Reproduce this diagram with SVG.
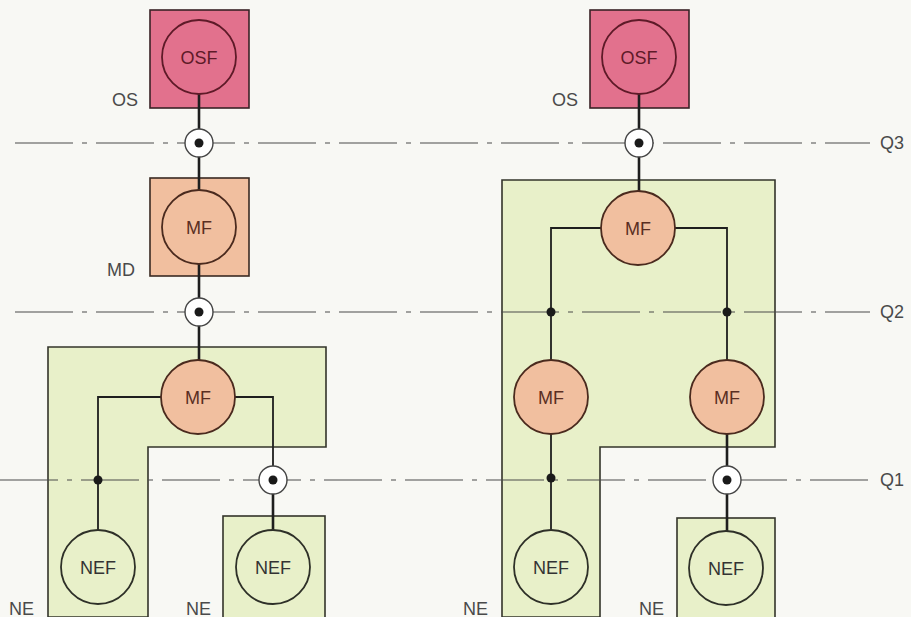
<svg xmlns="http://www.w3.org/2000/svg" width="911" height="617" viewBox="0 0 911 617">
  <style>
    .bg { fill: #f8f8f4; }
    .os-box { fill: #e2718d; stroke: #3a2226; stroke-width: 1.6; }
    .md-box { fill: #f1bf9f; stroke: #3a2a22; stroke-width: 1.6; }
    .ne-box { fill: #e8f0c9; stroke: #33342a; stroke-width: 1.6; }
    .osf { fill: #e2718d; stroke: #5e1a28; stroke-width: 1.8; }
    .mf { fill: #f1bf9f; stroke: #4a2a1e; stroke-width: 1.8; }
    .nef { fill: #e8f0c9; stroke: #2e3028; stroke-width: 1.8; }
    .qline { fill: none; stroke: #4a4a4a; stroke-width: 1.2; stroke-dasharray: 58 9 5 9; }
    .link { fill: none; stroke: #1e1e1e; stroke-width: 1.8; }
    .trunk { fill: none; stroke: #1e1e1e; stroke-width: 2.6; }
    .ref { fill: #ffffff; stroke: #444; stroke-width: 1.4; }
    .dot { fill: #1a1a1a; }
    .fn { font-family: "Liberation Sans", Arial, sans-serif; font-size: 18px; text-anchor: middle; }
    .fn-os { fill: #5e1a28; }
    .fn-mf { fill: #5a2e22; }
    .fn-ne { fill: #333333; }
    .lbl { font-family: "Liberation Sans", Arial, sans-serif; font-size: 18px; fill: #4a4a4a; }
  </style>

  <rect class="bg" x="0" y="0" width="911" height="617"/>

  <!-- Containers -->
  <g id="os-left"><rect class="os-box" x="150" y="10" width="99" height="98"/></g>
  <g id="md-left"><rect class="md-box" x="150" y="178" width="99" height="98"/></g>
  <g id="ne-left-a"><path class="ne-box" d="M48,347 H326 V447 H148 V617 H48 Z"/></g>
  <g id="ne-left-b"><rect class="ne-box" x="223" y="516" width="102" height="105"/></g>
  <g id="os-right"><rect class="os-box" x="590" y="10" width="99" height="98"/></g>
  <g id="ne-right-a"><path class="ne-box" d="M502,180 H775 V447 H600 V617 H502 Z"/></g>
  <g id="ne-right-b"><rect class="ne-box" x="677" y="518" width="98" height="103"/></g>

  <!-- Reference lines Q3, Q2, Q1 -->
  <g id="qlines">
    <line class="qline" x1="15" y1="143" x2="870" y2="143"/>
    <line class="qline" x1="15" y1="312" x2="870" y2="312"/>
    <line class="qline" x1="0" y1="480" x2="870" y2="480"/>
    <text class="lbl" x="880" y="149">Q3</text>
    <text class="lbl" x="880" y="318">Q2</text>
    <text class="lbl" x="880" y="486">Q1</text>
  </g>

  <!-- Connectors -->
  <g id="connectors">
    <line class="trunk" x1="199" y1="94" x2="199" y2="190"/>
    <line class="trunk" x1="199" y1="264" x2="199" y2="360"/>
    <path class="link" d="M161,397 H98 V530"/>
    <path class="link" d="M235,397 H273 V466"/>
    <line class="trunk" x1="273" y1="480" x2="273" y2="530"/>

    <line class="trunk" x1="639" y1="94" x2="639" y2="192"/>
    <path class="link" d="M602,228 H551 V360"/>
    <path class="link" d="M675,228 H727 V360"/>
    <line class="link" x1="551" y1="434" x2="551" y2="530"/>
    <line class="trunk" x1="727" y1="434" x2="727" y2="531"/>

    <!-- reference points -->
    <circle class="ref" cx="199" cy="143" r="14"/><circle class="dot" cx="199" cy="143" r="4.5"/>
    <circle class="ref" cx="199" cy="312" r="14"/><circle class="dot" cx="199" cy="312" r="4.5"/>
    <circle class="ref" cx="273" cy="480" r="14"/><circle class="dot" cx="273" cy="480" r="4.5"/>
    <circle class="ref" cx="639" cy="143" r="14"/><circle class="dot" cx="639" cy="143" r="4.5"/>
    <circle class="ref" cx="727" cy="480" r="14"/><circle class="dot" cx="727" cy="480" r="4.5"/>
    <circle class="dot" cx="98" cy="480" r="4.5"/>
    <circle class="dot" cx="551" cy="312" r="4.5"/>
    <circle class="dot" cx="727" cy="312" r="4.5"/>
    <circle class="dot" cx="551" cy="478" r="4.5"/>
  </g>

  <!-- Functions -->
  <g id="osf-left"><circle class="osf" cx="199" cy="57" r="37"/><text class="fn fn-os" x="199" y="64">OSF</text></g>
  <g id="mf-md"><circle class="mf" cx="199" cy="227" r="37"/><text class="fn fn-mf" x="199" y="234">MF</text></g>
  <g id="mf-ne-left"><circle class="mf" cx="198" cy="397" r="37"/><text class="fn fn-mf" x="198" y="404">MF</text></g>
  <g id="nef-left-a"><circle class="nef" cx="98" cy="567" r="37"/><text class="fn fn-ne" x="98" y="574">NEF</text></g>
  <g id="nef-left-b"><circle class="nef" cx="273" cy="567" r="37"/><text class="fn fn-ne" x="273" y="574">NEF</text></g>

  <g id="osf-right"><circle class="osf" cx="639" cy="57" r="37"/><text class="fn fn-os" x="639" y="64">OSF</text></g>
  <g id="mf-right-top"><circle class="mf" cx="638" cy="228" r="37"/><text class="fn fn-mf" x="638" y="235">MF</text></g>
  <g id="mf-right-a"><circle class="mf" cx="551" cy="397" r="37"/><text class="fn fn-mf" x="551" y="404">MF</text></g>
  <g id="mf-right-b"><circle class="mf" cx="727" cy="397" r="37"/><text class="fn fn-mf" x="727" y="404">MF</text></g>
  <g id="nef-right-a"><circle class="nef" cx="551" cy="567" r="37"/><text class="fn fn-ne" x="551" y="574">NEF</text></g>
  <g id="nef-right-b"><circle class="nef" cx="726" cy="568" r="37"/><text class="fn fn-ne" x="726" y="575">NEF</text></g>

  <!-- Block labels -->
  <g id="labels">
    <text class="lbl" x="112" y="106">OS</text>
    <text class="lbl" x="107" y="276">MD</text>
    <text class="lbl" x="9" y="615">NE</text>
    <text class="lbl" x="186" y="615">NE</text>
    <text class="lbl" x="552" y="106">OS</text>
    <text class="lbl" x="463" y="615">NE</text>
    <text class="lbl" x="639" y="615">NE</text>
  </g>
</svg>
